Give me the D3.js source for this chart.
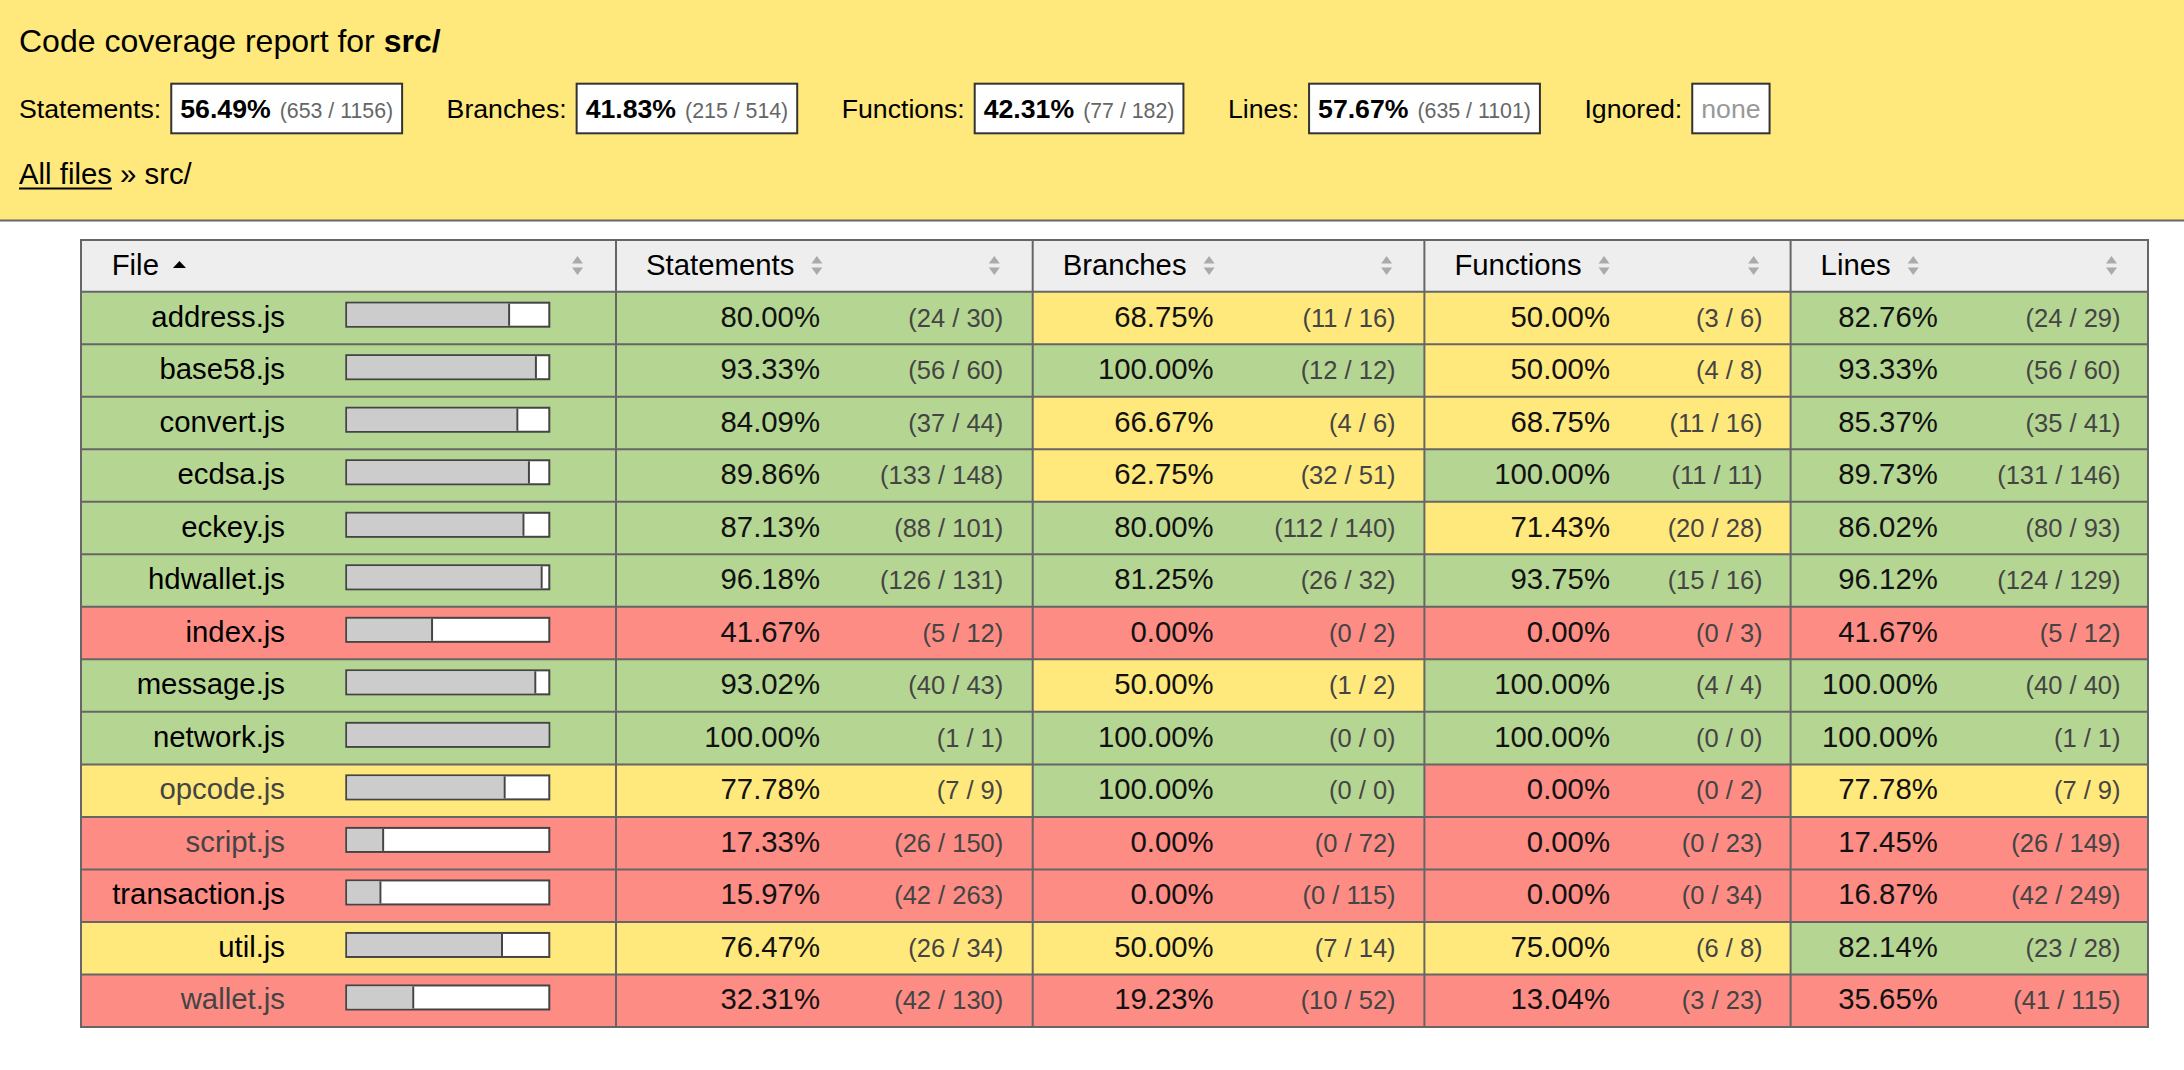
<!DOCTYPE html>
<html><head><meta charset="utf-8">
<script src="https://cdn.jsdelivr.net/npm/d3@7"></script>
<style>
html,body{margin:0;padding:0;background:#fff;}
svg{display:block;font-family:"Liberation Sans",Arial,Helvetica,sans-serif;}
</style></head><body>
<svg id="chart" width="2184" height="1070"></svg>
<script>
// ---------------- data ----------------
const files = ["address.js","base58.js","convert.js","ecdsa.js","eckey.js","hdwallet.js","index.js","message.js","network.js","opcode.js","script.js","transaction.js","util.js","wallet.js"];
const visitedFiles = ["opcode.js","script.js","wallet.js"];
const metricNames = ["Statements","Branches","Functions","Lines"];
const statementsCovered = [24,56,37,133,88,126,5,40,1,7,26,42,26,42];
const statementsTotal   = [30,60,44,148,101,131,12,43,1,9,150,263,34,130];
const branchesCovered   = [11,12,4,32,112,26,0,1,0,0,0,0,7,10];
const branchesTotal     = [16,12,6,51,140,32,2,2,0,0,72,115,14,52];
const functionsCovered  = [3,4,11,11,20,15,0,4,0,0,0,0,6,3];
const functionsTotal    = [6,8,16,11,28,16,3,4,0,2,23,34,8,23];
const linesCovered      = [24,56,35,131,80,124,5,40,1,7,26,42,23,41];
const linesTotal        = [29,60,41,146,93,129,12,40,1,9,149,249,28,115];
const ignoredText = "none";
const titleText = "Code coverage report for ";
const titleDir = "src/";
const crumbLink = "All files";
const crumbRest = " » src/";

// ---------------- helpers ----------------
const covered = [statementsCovered, branchesCovered, functionsCovered, linesCovered];
const totals  = [statementsTotal, branchesTotal, functionsTotal, linesTotal];
const pctOf = (c, t) => t === 0 ? 100 : c / t * 100;
const level = p => p >= 80 ? "high" : (p >= 50 ? "medium" : "low");
const levelColor = d3.scaleOrdinal().domain(["high","medium","low"]).range(["#b5d592","#ffe87c","#fc8c84"]);

const svg = d3.select("#chart");
const FONT = 29.33, SFONT = 26.67, AFONT = 25.5;

// ---------------- page header ----------------
const overall = pctOf(d3.sum(statementsCovered), d3.sum(statementsTotal));
svg.append("rect").attr("x",0).attr("y",0).attr("width",2184).attr("height",220)
  .attr("fill", levelColor(level(overall)));
svg.append("line").attr("x1",0).attr("x2",2184).attr("y1",220.5).attr("y2",220.5)
  .attr("stroke","#666").attr("stroke-width",2);

const title = svg.append("text").attr("x",19).attr("y",52).style("font-size","32px").attr("fill","#000");
title.append("tspan").text(titleText);
title.append("tspan").style("font-weight","bold").text(titleDir);

// summary boxes
const summary = svg.append("g");
let sx = 19;
const sBase = 118;
metricNames.forEach((name, i) => {
  const c = d3.sum(covered[i]), t = d3.sum(totals[i]);
  const lab = summary.append("text").attr("x", sx).attr("y", sBase).style("font-size", SFONT+"px").text(name + ":");
  const bx = sx + lab.node().getComputedTextLength() + 9;
  const box = summary.append("rect");
  const t1 = summary.append("text").attr("x", bx + 10).attr("y", sBase)
    .style("font-size", SFONT+"px").style("font-weight","bold").text(pctOf(c,t).toFixed(2) + "%");
  const ax = bx + 10 + t1.node().getComputedTextLength() + 9;
  const t2 = summary.append("text").attr("x", ax).attr("y", sBase)
    .style("font-size", "21.33px").attr("fill","#666").text("(" + c + " / " + t + ")");
  const bw = ax + t2.node().getComputedTextLength() + 10 - bx;
  box.attr("x", bx + 1).attr("y", 83.7).attr("width", bw - 2).attr("height", 49.6)
    .attr("fill","#fff").attr("stroke","#333").attr("stroke-width",2);
  sx = bx + bw + 43.5;
});
{
  const lab = summary.append("text").attr("x", sx).attr("y", sBase).style("font-size", SFONT+"px").text("Ignored:");
  const bx = sx + lab.node().getComputedTextLength() + 9;
  const box = summary.append("rect");
  const t1 = summary.append("text").attr("x", bx + 10).attr("y", sBase)
    .style("font-size", SFONT+"px").attr("fill","#999").text(ignoredText);
  const bw = t1.node().getComputedTextLength() + 20;
  box.attr("x", bx + 1).attr("y", 83.7).attr("width", bw - 2).attr("height", 49.6)
    .attr("fill","#fff").attr("stroke","#333").attr("stroke-width",2);
}

// breadcrumb
const crumb = svg.append("text").attr("x",19).attr("y",184).style("font-size", FONT+"px");
const linkSpan = crumb.append("tspan").text(crumbLink);
crumb.append("tspan").text(crumbRest);
const linkW = linkSpan.node().getComputedTextLength();
svg.append("line").attr("x1",19).attr("x2",19+linkW).attr("y1",188.5).attr("y2",188.5)
  .attr("stroke","#000").attr("stroke-width",2);

// ---------------- table ----------------
const T = {left:81, right:2148, top:240, headBottom:291.7, bottom:1027};
const groupLeft = [616, 1032.7, 1424.4, 1790.6];
const groupRight = [1032.7, 1424.4, 1790.6, 2148];
const pctRight = [820, 1213.7, 1610, 1937.8];
const absRight = [1003.3, 1395.6, 1762.6, 2120.5];

const y = d3.scaleBand().domain(files).range([T.headBottom, T.bottom]).padding(0);
const barScale = d3.scaleLinear().domain([0,100]).range([0,201]);

const table = svg.append("g");
table.append("rect").attr("x",T.left).attr("y",T.top).attr("width",T.right-T.left).attr("height",T.headBottom-T.top).attr("fill","#eee");

const rows = table.selectAll("g.row").data(files.map((f, i) => ({f, i}))).join("g").attr("class","row");
rows.append("rect").attr("x",T.left).attr("y",d => y(d.f)).attr("width",groupLeft[0]-T.left).attr("height",y.bandwidth())
  .attr("fill", d => levelColor(level(pctOf(statementsCovered[d.i], statementsTotal[d.i]))));
metricNames.forEach((m, k) => {
  rows.append("rect").attr("x",groupLeft[k]).attr("y",d => y(d.f)).attr("width",groupRight[k]-groupLeft[k]).attr("height",y.bandwidth())
    .attr("fill", d => levelColor(level(pctOf(covered[k][d.i], totals[k][d.i]))));
});

rows.append("text").attr("x",285).attr("y",d => y(d.f) + 35).attr("text-anchor","end")
  .style("font-size",FONT+"px").attr("fill", d => visitedFiles.includes(d.f) ? "#444" : "#000").text(d => d.f);

rows.each(function(d){
  const g = d3.select(this);
  const p = pctOf(statementsCovered[d.i], statementsTotal[d.i]);
  const top = y(d.f) + 10;
  g.append("rect").attr("x",346.3).attr("y",top+1).attr("width",203).attr("height",24)
    .attr("fill","#fff").attr("stroke","#444").attr("stroke-width",2);
  g.append("rect").attr("x",347.3).attr("y",top+2).attr("width",barScale(p)).attr("height",22).attr("fill","#ccc");
  if (p < 100) {
    g.append("line").attr("x1",347.3+barScale(p)+1).attr("x2",347.3+barScale(p)+1)
      .attr("y1",top+2).attr("y2",top+24).attr("stroke","#444").attr("stroke-width",2);
  }
});

metricNames.forEach((m, k) => {
  rows.append("text").attr("x",pctRight[k]).attr("y",d => y(d.f) + 35).attr("text-anchor","end")
    .style("font-size",FONT+"px").attr("fill","#111")
    .text(d => pctOf(covered[k][d.i], totals[k][d.i]).toFixed(2) + "%");
  rows.append("text").attr("x",absRight[k]).attr("y",d => y(d.f) + 35).attr("text-anchor","end")
    .style("font-size",AFONT+"px").attr("fill","#444")
    .text(d => "(" + covered[k][d.i] + " / " + totals[k][d.i] + ")");
});

const hLines = [T.top, T.headBottom].concat(files.map(f => y(f) + y.bandwidth()));
table.selectAll("line.h").data(hLines).join("line").attr("class","h")
  .attr("x1",T.left-1).attr("x2",T.right+1).attr("y1",d=>d).attr("y2",d=>d)
  .attr("stroke","#666").attr("stroke-width",2);
const vLines = [T.left].concat(groupLeft).concat([T.right]);
table.selectAll("line.v").data(vLines).join("line").attr("class","v")
  .attr("x1",d=>d).attr("x2",d=>d).attr("y1",T.top).attr("y2",T.bottom)
  .attr("stroke","#666").attr("stroke-width",2);

function sorter(x) {
  table.append("path").attr("d", `M${x},263.5 L${x+11},263.5 L${x+5.5},256 Z`).attr("fill","#aaa");
  table.append("path").attr("d", `M${x},267.5 L${x+11},267.5 L${x+5.5},275 Z`).attr("fill","#aaa");
}
const fileHead = table.append("text").attr("x",111.7).attr("y",275).style("font-size",FONT+"px").text("File");
const fw = fileHead.node().getComputedTextLength();
table.append("path").attr("d", `M${111.7+fw+14},268 L${111.7+fw+27},268 L${111.7+fw+20.5},261 Z`).attr("fill","#000");
sorter(572);
metricNames.forEach((m, k) => {
  const t = table.append("text").attr("x",groupLeft[k]+30).attr("y",275).style("font-size",FONT+"px").text(m);
  const w = t.node().getComputedTextLength();
  sorter(groupLeft[k]+30+w+17);
  sorter(absRight[k]-14.5);
});
</script>
</body></html>
